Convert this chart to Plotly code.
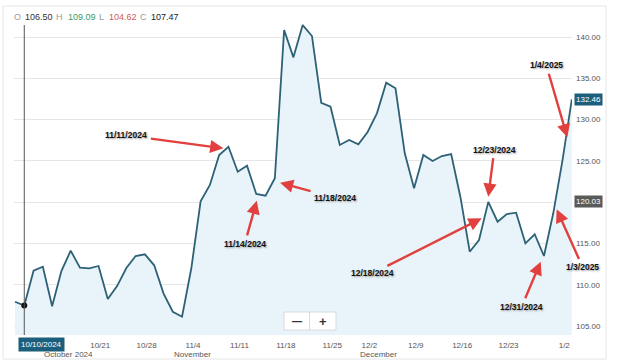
import plotly.graph_objects as go
import pandas as pd

# ---------------- data ----------------
dates = [d.strftime("%Y-%m-%d") for d in pd.bdate_range(
    "2024-10-09", "2025-01-06", freq="C",
    holidays=["2024-11-28", "2024-12-25", "2025-01-01"])]

close = [107.94, 107.47, 111.70, 112.18, 107.39, 111.66, 114.12, 112.06, 111.99, 112.27,
         108.27, 109.84, 112.02, 113.48, 113.68, 112.35, 108.96, 106.73, 106.13, 111.99,
         120.10, 122.08, 125.71, 126.71, 123.69, 124.41, 120.99, 120.78, 122.89, 140.85,
         137.54, 141.45, 140.12, 132.04, 131.56, 126.92, 127.53, 127.00, 128.50, 130.76,
         134.47, 133.79, 125.92, 121.68, 125.71, 124.98, 125.59, 125.83, 120.60, 114.00,
         115.41, 120.03, 117.63, 118.56, 118.72, 115.01, 116.11, 113.48, 118.65, 125.10,
         132.46]

tick_dates = ["2024-10-21", "2024-10-28", "2024-11-04", "2024-11-11", "2024-11-18",
              "2024-11-25", "2024-12-02", "2024-12-09", "2024-12-16", "2024-12-23",
              "2025-01-02"]
tick_labels = ["10/21", "10/28", "11/4", "11/11", "11/18", "11/25", "12/2", "12/9",
               "12/16", "12/23", "1/2"]
y_ticks = [105, 110, 115, 120, 125, 130, 135, 140]

month_labels = ["October 2024", "November", "December"]

ohlc_names = ["O", "H", "L", "C"]
ohlc_values = [106.50, 109.09, 104.62, 107.47]

selected_date = "2024-10-10"
selected_label = "10/10/2024"
last_value = 132.46
ref_value = 120.03

# callout labels: text, tip position (category index, value)
callout_text = ["11/11/2024", "11/14/2024", "11/18/2024", "12/18/2024",
                "12/23/2024", "12/31/2024", "1/3/2025", "1/4/2025"]
callout_idx = [22.45, 26.05, 28.56, 50.29, 51.0, 56.65, 58.37, 59.52]
callout_val = [126.52, 120.17, 122.35, 118.04, 120.66, 112.79, 119.13, 127.85]

# ---------------- layout helpers ----------------
W, H = 620, 364
L, R, T, B = 14, 48, 22, 29
PW, PH = W - L - R, H - T - B


def px(x):
    return (x - L) / PW


def py(y):
    return (H - B - y) / PH


LINE = "#2d6276"
FILL = "#e9f4fa"
TEAL = "#1c5f7d"
RED = "#e2403f"
GREY_TXT = "#555555"

fig = go.Figure()
fig.add_trace(go.Scatter(
    x=dates, y=close, mode="lines", fill="tozeroy", fillcolor=FILL,
    line=dict(color=LINE, width=1.8), hoverinfo="skip", showlegend=False))
fig.add_trace(go.Scatter(
    x=[selected_date], y=[close[dates.index(selected_date)]], mode="markers",
    marker=dict(color="#111111", size=6), showlegend=False, hoverinfo="skip"))

annotations = []

# header OHLC
name_x = [12, 54, 97, 138]
val_x = [23, 66, 107, 149]
val_colors = ["#333333", "#3a9a6a", "#d05a5a", "#222222"]
for n, v, nx, vx, c in zip(ohlc_names, ohlc_values, name_x, val_x, val_colors):
    annotations.append(dict(xref="paper", yref="paper", x=px(nx), y=py(17),
                            xanchor="left", yanchor="middle", text=n, showarrow=False,
                            font=dict(size=9, color="#9a9a9a", family="Liberation Sans")))
    annotations.append(dict(xref="paper", yref="paper", x=px(vx), y=py(17),
                            xanchor="left", yanchor="middle", text=f"{v:.2f}", showarrow=False,
                            font=dict(size=9, color=c, family="Liberation Sans")))

# month labels
for t, cx in zip(month_labels, [68, 193, 378]):
    annotations.append(dict(xref="paper", yref="paper", x=px(cx), y=py(354),
                            xanchor="center", yanchor="middle", text=t, showarrow=False,
                            font=dict(size=8, color=GREY_TXT, family="Liberation Sans")))

# selected date box
annotations.append(dict(xref="paper", yref="paper", x=px(41), y=py(344),
                        xanchor="center", yanchor="middle", text=selected_label,
                        showarrow=False, bgcolor=TEAL, borderpad=2,
                        font=dict(size=8, color="white", family="Liberation Sans")))

# right-side value boxes
annotations.append(dict(xref="paper", yref="y", x=px(574), y=last_value,
                        xanchor="left", yanchor="middle", text=f"{last_value:.2f}",
                        showarrow=False, bgcolor=TEAL, borderpad=1,
                        font=dict(size=8, color="white", family="Liberation Sans")))
annotations.append(dict(xref="paper", yref="y", x=px(574), y=ref_value,
                        xanchor="left", yanchor="middle", text=f"{ref_value:.2f}",
                        showarrow=False, bgcolor="#5a5a5a", borderpad=1,
                        font=dict(size=8, color="white", family="Liberation Sans")))

# callouts (text offset in pixels from arrow tip)
offsets = [(-97, -13), (-12, 43), (55, 15), (-109, 55), (6, -47), (-19, 45), (26, 58), (-21, -72)]
for t, xi, yv, (ax, ay) in zip(callout_text, callout_idx, callout_val, offsets):
    annotations.append(dict(
        x=xi, y=yv, xref="x", yref="y", ax=ax, ay=ay, axref="pixel", ayref="pixel",
        text=f"<b>{t}</b>", showarrow=True, arrowhead=2, arrowsize=1.1, arrowwidth=2.4,
        arrowcolor=RED, standoff=0, startstandoff=2,
        font=dict(size=8.5, color="#111111", family="Liberation Sans",
                  shadow="1px 1px 2px #9a9a9a")))

# zoom buttons text
annotations.append(dict(xref="paper", yref="paper", x=px(296.5), y=py(321), text="<b>—</b>",
                        xanchor="center", yanchor="middle",
                        showarrow=False, font=dict(size=10, color="#333333")))
annotations.append(dict(xref="paper", yref="paper", x=px(323), y=py(321), text="<b>+</b>",
                        xanchor="center", yanchor="middle",
                        showarrow=False, font=dict(size=13, color="#333333")))

shapes = [
    # crosshair
    dict(type="line", xref="x", yref="paper", x0=selected_date, x1=selected_date,
         y0=0, y1=py(25), line=dict(color="#555555", width=1)),
    # zoom buttons
    dict(type="rect", xref="paper", yref="paper", x0=px(284), x1=px(309.5),
         y0=py(330), y1=py(312), fillcolor="white", line=dict(color="#d9d9d9", width=1),
         layer="above"),
    dict(type="rect", xref="paper", yref="paper", x0=px(309.5), x1=px(336),
         y0=py(330), y1=py(312), fillcolor="white", line=dict(color="#d9d9d9", width=1),
         layer="above"),
    # outer frame
    dict(type="rect", xref="paper", yref="paper", x0=px(3), x1=px(606),
         y0=py(359), y1=py(6), line=dict(color="#e6e6e6", width=1), layer="below"),
]

fig.update_layout(
    width=W, height=H,
    margin=dict(l=L, r=R, t=T, b=B, pad=0),
    paper_bgcolor="white", plot_bgcolor="white",
    showlegend=False,
    font=dict(family="Liberation Sans", size=8, color=GREY_TXT),
    xaxis=dict(type="category", range=[-0.108, 60.02], tickmode="array",
               tickvals=tick_dates, ticktext=tick_labels, showgrid=False, zeroline=False,
               showline=False, ticks="", ticklabelshift=11, ticklabelstandoff=4,
               tickfont=dict(size=8, color=GREY_TXT)),
    yaxis=dict(side="right", range=[103.91, 141.82], tickmode="array", tickvals=y_ticks,
               tickformat=".2f", showgrid=True, gridcolor="#e6e6e6", gridwidth=1,
               zeroline=False, showline=False, ticks="", ticklabelstandoff=3,
               tickfont=dict(size=8, color=GREY_TXT)),
    annotations=annotations,
    shapes=shapes,
)

fig.write_html("out.html", config={"displayModeBar": False},
               post_script="document.body.style.margin='0';document.body.style.padding='0';")
